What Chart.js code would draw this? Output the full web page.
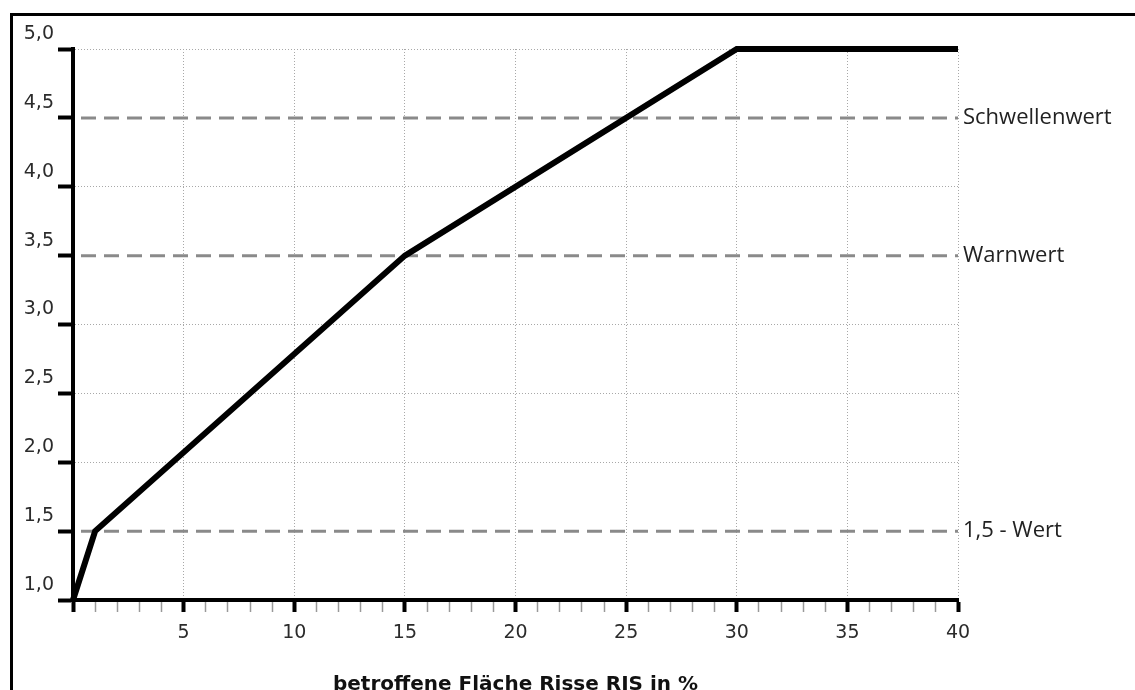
<!DOCTYPE html>
<html>
<head>
<meta charset="utf-8">
<script src="https://cdn.jsdelivr.net/npm/chart.js@4/dist/chart.umd.min.js"></script>
<style>
  html, body { margin: 0; padding: 0; background: #fff; overflow: hidden; }
  #frame { position: absolute; left: 10px; top: 13px; width: 2000px; height: 2000px; border: 3px solid #000; }
  #rissChart { position: absolute; left: 0; top: 0; }
</style>
</head>
<body>
<canvas id="rissChart" width="1135" height="690"></canvas>
<div id="frame"></div>
<script>
// Kurve: Note über betroffene Fläche
const flaeche = [0, 1, 15, 30, 40];
const note = [1.0, 1.5, 3.5, 5.0, 5.0];

// Grenzlinien
const grenzWerte = [1.5, 3.5, 4.5];
const grenzNamen = ["1,5 - Wert", "Warnwert", "Schwellenwert"];

const xMin = 0, xMax = 40;
const yMin = 1.0, yMax = 5.0;

const curve = flaeche.map((x, i) => ({ x: x, y: note[i] }));

const grenzSets = grenzWerte.map((v, i) => ({
    label: grenzNamen[i],
    data: [{ x: xMin, y: v }, { x: xMax, y: v }],
    borderColor: '#8a8a8a',
    borderWidth: 3,
    borderDash: [15, 8],
    borderDashOffset: -8,
    pointRadius: 0,
    order: 1
}));

// Beschriftung rechts neben den Grenzlinien
const grenzLabels = {
    id: 'grenzLabels',
    afterDatasetsDraw(chart) {
        const ctx = chart.ctx;
        const xs = chart.scales.x, ys = chart.scales.y;
        ctx.save();
        ctx.font = '22px "Open Sans"';
        ctx.fillStyle = '#222';
        ctx.textAlign = 'left';
        ctx.textBaseline = 'middle';
        grenzWerte.forEach((v, i) => {
            ctx.fillText(grenzNamen[i], xs.getPixelForValue(xMax) + 5, ys.getPixelForValue(v));
        });
        ctx.restore();
    }
};

const fmt = v => v.toFixed(1).replace('.', ',');

new Chart(document.getElementById("rissChart"), {
    type: 'line',
    data: {
        datasets: [{
            label: 'Note',
            data: curve,
            borderColor: '#000',
            borderWidth: 6,
            pointRadius: 0,
            tension: 0,
            clip: 8,
            order: 0
        }, ...grenzSets]
    },
    plugins: [grenzLabels],
    options: {
        responsive: false,
        animation: false,
        events: [],
        layout: { padding: { top: 49, right: 177, left: 0, bottom: 0 } },
        plugins: {
            legend: { display: false },
            tooltip: { enabled: false }
        },
        scales: {
            x: {
                type: 'linear',
                min: xMin,
                max: xMax,
                afterFit: s => { s.height = 90; },
                border: { color: '#000', width: 4, dash: [1, 2] },
                grid: {
                    color: c => (c.tick && c.tick.value % 5 === 0) ? '#a8a8a8' : 'rgba(0,0,0,0)',
                    lineWidth: 1,
                    tickLength: 12,
                    tickWidth: c => (c.tick && c.tick.value % 5 === 0) ? 4 : 1.5,
                    tickColor: c => (c.tick && c.tick.value % 5 === 0) ? '#000' : '#999'
                },
                ticks: {
                    stepSize: 1,
                    autoSkip: false,
                    maxRotation: 0,
                    padding: 10,
                    color: '#2b2b2b',
                    font: { family: 'DejaVu Sans', size: 19 },
                    callback: v => (v % 5 === 0 && v > 0) ? String(v) : ''
                },
                title: {
                    display: true,
                    text: 'betroffene Fläche Risse RIS in %',
                    color: '#111',
                    font: { family: 'DejaVu Sans', size: 20, weight: 'bold' },
                    padding: { top: 0, bottom: -7 }
                }
            },
            y: {
                min: yMin,
                max: yMax,
                afterFit: s => { s.width = 73; },
                border: { color: '#000', width: 4, dash: [1, 2] },
                grid: {
                    color: c => (c.tick && grenzWerte.includes(c.tick.value)) ? 'rgba(0,0,0,0)' : '#a8a8a8',
                    lineWidth: 1,
                    tickLength: 15,
                    tickWidth: 4,
                    tickColor: '#000'
                },
                ticks: {
                    stepSize: 0.5,
                    padding: 4,
                    labelOffset: -15,
                    color: '#2b2b2b',
                    font: { family: 'DejaVu Sans', size: 19 },
                    callback: v => fmt(v)
                }
            }
        }
    }
});
</script>
</body>
</html>
